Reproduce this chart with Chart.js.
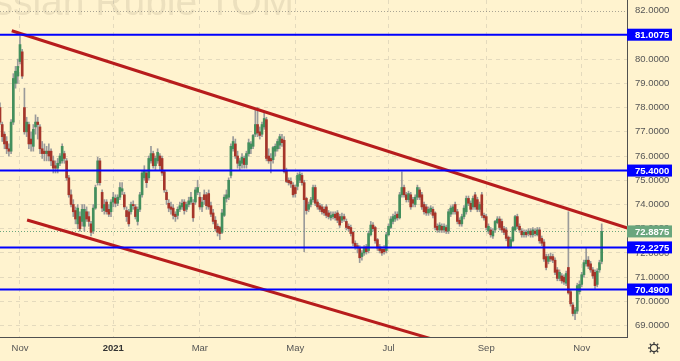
<!DOCTYPE html>
<html><head><meta charset="utf-8">
<style>html,body{margin:0;padding:0;background:#fff3cf;}canvas{display:block;}</style>
<script src="https://cdn.jsdelivr.net/npm/chart.js@4"></script>
</head><body>
<canvas id="c" width="680" height="361"></canvas>
<script>
// ---- data (daily candles, USD/RUB TOM, Oct 2020 - Nov 2021) ----
const opens = [
78.0,77.3,76.9,76.6,76.3,76.2,77.4,79.0,79.3,79.9,
80.3,78.0,77.0,77.3,76.7,76.4,77.2,77.4,77.2,76.3,
76.2,76.1,76.2,76.2,75.8,75.6,75.5,75.7,75.8,76.1,
75.8,75.1,74.4,74.0,73.75,73.2,73.5,73.3,73.1,73.7,
73.5,73.2,72.9,73.85,74.9,75.8,74.5,73.75,74.1,73.8,
73.7,74.1,74.25,74.05,74.3,74.55,74.4,73.75,73.7,73.7,
74.0,73.9,73.3,73.8,74.4,75.1,75.3,75.1,75.8,76.1,
75.6,75.8,76.0,75.9,75.35,74.5,74.05,73.9,73.85,73.6,
73.55,73.8,73.9,74.1,73.8,74.0,74.1,74.05,74.1,74.5,
74.3,73.9,74.4,74.4,74.45,73.95,73.65,73.35,73.1,73.05,
72.85,73.55,74.25,74.3,75.2,76.3,76.5,76.0,75.6,75.7,
75.9,75.65,76.1,76.3,76.4,76.9,77.3,77.0,76.9,77.2,
77.5,76.0,75.9,75.85,76.2,76.3,76.45,76.7,76.65,75.4,
75.0,74.95,74.8,74.7,74.75,75.0,75.2,74.9,74.25,73.8,
74.0,74.2,74.7,74.1,73.95,73.9,73.8,73.9,73.65,73.45,
73.5,73.6,73.65,73.5,73.35,73.5,73.3,73.1,73.05,72.85,
72.4,72.3,72.2,71.85,72.0,72.25,72.1,72.75,73.15,73.05,
72.55,72.25,72.15,72.15,72.1,72.75,73.05,73.3,73.4,73.6,
73.45,74.4,74.7,74.4,74.2,74.4,74.2,74.0,74.3,74.6,
74.4,74.0,73.9,73.65,73.7,73.8,73.65,73.1,72.95,73.1,
72.95,73.05,72.9,73.6,73.7,74.0,73.7,73.35,73.2,73.5,
73.7,74.25,74.05,73.9,74.4,74.2,73.8,74.4,73.55,73.5,
72.9,72.95,72.7,72.95,73.25,73.4,73.3,73.0,72.95,72.65,
72.25,72.5,72.95,73.5,73.1,72.9,72.75,72.85,72.8,72.9,
72.75,72.9,72.75,72.95,72.6,72.45,71.85,71.65,71.85,71.85,
71.7,71.3,70.95,71.05,71.0,70.75,71.4,70.4,69.85,69.5,
69.6,70.4,70.7,71.1,71.55,71.7,71.55,71.3,71.2,70.7,
71.3,71.65];
const highs = [
78.2,77.4,77.0,76.8,76.5,77.5,79.4,79.7,80.0,80.95,
80.4,78.8,77.6,77.4,77.0,77.3,77.7,77.6,77.3,76.6,
76.5,76.4,76.5,76.3,76.0,75.8,75.9,76.1,76.5,76.2,
75.9,75.2,74.6,74.2,73.9,74.0,73.7,74.0,74.0,73.9,
73.7,73.3,74.0,74.8,75.95,75.9,74.6,74.2,74.2,74.0,
74.2,74.5,74.4,74.4,74.9,74.9,74.5,73.9,73.8,74.1,
74.15,74.0,73.9,74.5,75.4,75.6,75.4,76.0,76.4,76.2,
76.0,76.3,76.1,76.0,75.4,74.6,74.2,74.1,74.0,73.7,
73.9,74.1,74.2,74.2,74.1,74.3,74.5,74.2,74.7,75.0,
74.5,74.3,74.6,74.5,74.6,74.1,73.8,73.5,73.2,73.1,
73.8,74.4,74.6,75.1,76.5,76.8,76.7,76.2,75.9,76.1,
76.0,76.2,76.7,76.6,76.9,77.9,78.0,77.2,77.4,77.85,
77.6,76.3,76.1,76.4,76.5,76.7,76.9,76.9,76.8,75.5,
75.1,75.1,74.9,74.8,75.3,75.35,75.3,75.0,74.3,74.1,
74.3,74.8,74.8,74.2,74.05,74.0,73.9,74.0,73.75,73.7,
73.7,73.7,73.75,73.6,73.65,73.6,73.4,73.2,73.15,72.9,
72.5,72.4,72.3,72.1,72.3,72.35,72.9,73.3,73.25,73.1,
72.6,72.35,72.25,72.3,72.85,73.2,73.5,73.6,73.7,73.7,
74.5,75.35,74.8,74.5,74.55,74.5,74.3,74.4,74.8,74.7,
74.5,74.1,74.0,73.9,73.95,73.9,73.7,73.2,73.25,73.2,
73.2,73.15,73.8,73.95,74.0,74.1,73.8,73.45,73.6,73.95,
74.35,74.35,74.15,74.35,74.5,74.3,74.1,74.5,73.65,73.6,
73.2,73.05,73.0,73.35,73.5,73.5,73.4,73.1,73.05,72.7,
72.65,73.1,73.55,73.6,73.2,73.0,72.95,72.95,73.0,73.0,
73.05,73.0,73.05,73.05,72.7,72.55,71.95,71.95,72.0,71.95,
71.8,71.4,71.3,71.15,71.1,71.25,73.7,70.5,69.95,69.75,
70.75,70.85,71.2,71.7,72.2,71.85,71.65,71.4,71.3,71.35,
71.7,73.2];
const lows = [
77.3,76.6,76.3,76.1,76.0,76.1,77.3,78.8,79.0,79.8,
79.2,76.9,76.8,76.3,76.2,76.2,76.9,76.7,76.1,75.9,
75.8,75.8,75.8,75.6,75.3,75.3,75.3,75.6,75.7,75.7,
75.0,74.3,73.9,73.5,73.2,73.0,72.9,73.1,72.9,73.3,
73.1,72.7,72.8,73.8,74.8,74.8,73.7,73.6,73.6,73.5,
73.5,73.9,73.9,73.95,74.2,74.4,73.8,73.3,73.1,73.6,
73.8,73.4,73.15,73.7,74.3,75.0,74.7,75.0,75.7,75.5,
75.4,75.7,75.4,75.2,74.5,74.0,73.7,73.6,73.4,73.3,
73.4,73.7,73.8,73.6,73.7,73.9,74.0,73.3,74.0,74.4,
73.8,73.7,74.0,73.8,73.8,73.5,73.2,72.9,72.7,72.55,
72.8,73.5,74.1,74.2,75.1,76.2,75.9,75.5,75.4,75.5,
75.5,75.5,76.0,76.1,76.3,76.8,76.8,76.7,76.8,77.1,
75.8,75.7,75.3,75.7,76.0,76.2,76.3,76.4,75.3,74.9,
74.8,74.7,74.3,74.3,74.6,74.9,74.8,72.05,73.6,73.7,
73.9,74.1,73.95,73.8,73.7,73.6,73.55,73.45,73.4,73.35,
73.4,73.35,73.25,73.05,73.25,73.3,72.95,72.9,72.7,72.3,
72.15,72.0,71.6,71.7,71.9,71.95,72.0,72.7,72.9,72.4,
72.1,72.0,71.9,71.95,72.0,72.7,73.0,73.2,73.3,73.35,
73.4,74.3,74.3,74.1,74.1,73.8,73.9,73.9,74.2,74.2,
73.8,73.6,73.55,73.55,73.6,73.45,72.95,72.85,72.85,72.85,
72.85,72.8,72.8,73.5,73.6,73.6,73.2,73.1,73.1,73.4,
73.6,73.95,73.7,73.8,73.8,73.7,73.7,73.45,73.35,72.95,
72.8,72.65,72.6,72.85,73.2,72.95,72.85,72.75,72.5,72.2,
72.2,72.45,72.9,73.0,72.85,72.65,72.65,72.65,72.7,72.65,
72.65,72.7,72.7,72.4,72.3,71.65,71.3,71.55,71.65,71.6,
71.1,70.85,70.85,70.75,70.7,70.65,70.3,69.8,69.4,69.25,
69.5,70.3,70.6,71.0,71.45,71.35,71.2,70.95,70.5,70.6,
71.2,71.55];
const closes = [
77.4,76.8,76.5,76.3,76.2,77.4,79.2,79.5,79.7,80.6,
79.3,77.0,77.4,76.5,76.5,77.1,77.4,77.3,76.3,76.1,
76.1,76.2,76.0,75.8,75.5,75.5,75.7,76.0,76.4,75.9,
75.1,74.4,74.0,73.7,73.4,73.85,73.0,73.8,73.8,73.4,
73.3,72.85,73.85,74.7,75.8,74.9,73.85,74.0,73.7,73.6,
74.1,74.3,74.05,74.3,74.7,74.65,73.9,73.5,73.2,74.0,
73.95,73.5,73.8,74.4,75.3,75.4,74.9,75.9,76.1,75.6,
75.9,76.15,75.6,75.3,74.6,74.2,73.85,73.8,73.55,73.5,
73.8,73.95,74.05,73.75,74.0,74.15,74.3,73.45,74.6,74.7,
73.9,74.1,74.2,73.95,73.9,73.6,73.3,73.0,72.85,72.8,
73.65,74.3,74.4,75.0,76.4,76.6,76.0,75.7,75.8,75.95,
75.65,76.1,76.55,76.5,76.85,77.3,76.95,76.85,77.3,77.55,
75.9,75.8,75.8,76.35,76.4,76.6,76.8,76.55,75.35,74.95,
74.9,74.85,74.4,74.45,75.2,75.25,74.9,74.2,73.75,74.0,
74.2,74.7,74.05,73.9,73.8,73.7,73.65,73.55,73.5,73.55,
73.6,73.45,73.35,73.15,73.5,73.4,73.05,73.0,72.8,72.4,
72.25,72.2,71.8,72.0,72.2,72.05,72.8,73.15,73.0,72.5,
72.2,72.1,72.0,72.05,72.75,73.1,73.4,73.5,73.55,73.45,
74.4,74.7,74.4,74.2,74.45,73.9,74.05,74.3,74.7,74.3,
73.9,73.7,73.65,73.8,73.85,73.55,73.05,72.95,73.15,72.95,
73.1,72.9,73.7,73.85,73.9,73.7,73.3,73.2,73.5,73.85,
74.25,74.05,73.8,74.25,73.9,73.8,74.0,73.55,73.45,73.05,
73.1,72.75,72.9,73.3,73.4,73.05,72.95,72.85,72.6,72.25,
72.55,73.05,73.5,73.1,72.95,72.75,72.85,72.75,72.9,72.75,
72.95,72.8,72.95,72.5,72.4,71.75,71.4,71.85,71.75,71.7,
71.2,70.95,71.2,70.85,70.8,71.15,70.35,69.9,69.5,69.65,
70.65,70.7,71.1,71.6,71.7,71.45,71.3,71.05,70.65,71.25,
71.6,72.8875];

const monthLabels = ['Nov','2021','Mar','May','Jul','Sep','Nov'];
const monthStartBars = [9,51,90,133,175,219,262];
const priceTicks = [69,70,71,72,73,74,75,76,77,78,79,80,81,82];
const levelLines = [81.0075, 75.40, 72.2275, 70.49];
const lastPrice = 72.8875;
const trendUpper = [[5.3,81.17],[290,72.81]];
const trendLower = [[12.2,73.36],[200,68.30]];
const watermark = 'U.S. Dollar / Russian Ruble TOM';

const lens = [opens.length, highs.length, lows.length, closes.length];
if (new Set(lens).size !== 1) throw new Error('length mismatch ' + lens.join(','));

// ---- styling ----
const BG = '#fff3cf';
const UP = '#438f5d', DOWN = '#a5352a', WICK = '#9a9a9a';
const BLUE = '#0000ff', RED = '#b71c1c', LASTG = '#6aa67e';
const FONT = '"Liberation Sans", Arial, sans-serif';

const lineDs = (pts, color, width) => ({
  type: 'line', data: pts.map(p => ({x: p[0], y: p[1]})),
  borderColor: color, borderWidth: width, pointRadius: 0, tension: 0,
  fill: false, clip: 0, order: 0
});

const datasets = [
  {
    type: 'bar', label: 'wick',
    data: highs.map((h, i) => ({x: i, y: [lows[i], h]})),
    backgroundColor: WICK, barThickness: 1, grouped: false, order: 3, borderWidth: 0
  },
  {
    type: 'bar', label: 'body',
    data: opens.map((o, i) => ({x: i, y: [o, closes[i]]})),
    backgroundColor: opens.map((o, i) => closes[i] >= o ? UP : DOWN),
    barThickness: 2, minBarLength: 1, grouped: false, order: 2, borderWidth: 0, borderSkipped: false
  },
  ...levelLines.map(v => lineDs([[-10, v], [300, v]], BLUE, 2)),
  lineDs(trendUpper, RED, 3),
  lineDs(trendLower, RED, 3)
];

const decor = {
  id: 'decor',
  beforeDraw(chart) {
    const {ctx} = chart;
    ctx.save();
    ctx.fillStyle = BG;
    ctx.fillRect(0, 0, chart.width, chart.height);
    ctx.font = '39px ' + FONT;
    ctx.fillStyle = 'rgba(110,100,80,0.13)';
    ctx.textAlign = 'right';
    ctx.textBaseline = 'alphabetic';
    ctx.fillText(watermark, 294, 15);
    ctx.restore();
  },
  beforeDatasetsDraw(chart) {
    const {ctx, chartArea: a, scales: {y}} = chart;
    ctx.save();
    // top dotted line
    let py = Math.round(y.getPixelForValue(priceTicks[priceTicks.length - 1])) + 0.5;
    ctx.strokeStyle = 'rgba(100,100,100,0.55)';
    ctx.lineWidth = 1;
    ctx.setLineDash([1, 2]);
    ctx.beginPath(); ctx.moveTo(a.left, py); ctx.lineTo(a.right, py); ctx.stroke();
    // last price dotted line
    py = Math.round(y.getPixelForValue(lastPrice)) + 0.5;
    ctx.strokeStyle = LASTG;
    ctx.beginPath(); ctx.moveTo(a.left, py); ctx.lineTo(a.right, py); ctx.stroke();
    ctx.restore();
  },
  afterDraw(chart) {
    const {ctx, chartArea: a, scales: {y}} = chart;
    ctx.save();
    ctx.font = 'bold 9.5px ' + FONT;
    ctx.textBaseline = 'middle';
    ctx.textAlign = 'left';
    const box = (v, col) => {
      const py = y.getPixelForValue(v);
      ctx.fillStyle = col;
      ctx.fillRect(a.right, py - 6, 45, 12);
      ctx.fillStyle = '#ffffff';
      ctx.fillText(v.toFixed(4), a.right + 8, py + 0.5);
    };
    levelLines.forEach(v => box(v, BLUE));
    box(lastPrice, LASTG);
    // settings gear
    const cx = 654, cy = 348;
    ctx.strokeStyle = '#3a3a3a';
    ctx.lineWidth = 1.2;
    ctx.beginPath(); ctx.arc(cx, cy, 3.6, 0, Math.PI * 2); ctx.stroke();
    for (let k = 0; k < 8; k++) {
      const t = k * Math.PI / 4;
      ctx.beginPath();
      ctx.moveTo(cx + Math.cos(t) * 3.6, cy + Math.sin(t) * 3.6);
      ctx.lineTo(cx + Math.cos(t) * 6, cy + Math.sin(t) * 6);
      ctx.stroke();
    }
    ctx.restore();
  }
};

new Chart(document.getElementById('c'), {
  type: 'bar',
  data: {datasets},
  options: {
    responsive: false, devicePixelRatio: 1, animation: false, events: [],
    layout: {padding: 0},
    plugins: {legend: {display: false}, tooltip: {enabled: false}},
    scales: {
      x: {
        type: 'linear', min: 0, max: 282.4, offset: false,
        grid: {offset: false, drawTicks: false, color: 'rgba(120,120,120,0.2)', lineWidth: 1},
        border: {display: true, color: '#505050', width: 1, dash: [4, 4]},
        afterBuildTicks: s => { s.ticks = monthStartBars.map(v => ({value: v})); },
        afterFit: s => { s.height = 24; s.paddingLeft = 0; s.paddingRight = 0; },
        ticks: {
          autoSkip: false, maxRotation: 0, padding: 6,
          callback: v => monthLabels[monthStartBars.indexOf(v)],
          color: c => (monthLabels[monthStartBars.indexOf(c.tick && c.tick.value)] === '2021') ? '#333' : '#555',
          font: c => ({family: FONT, size: 9.5,
            weight: (monthLabels[monthStartBars.indexOf(c.tick && c.tick.value)] === '2021') ? 'bold' : 'normal'})
        }
      },
      y: {
        type: 'linear', position: 'right', min: 68.53, max: 82.44, beginAtZero: false,
        grid: {drawTicks: false, color: c => (c.tick && c.tick.value === 82) ? 'rgba(0,0,0,0)' : 'rgba(120,120,120,0.2)', lineWidth: 1},
        border: {display: true, color: '#505050', width: 1, dash: [4, 4]},
        afterBuildTicks: s => { s.ticks = priceTicks.map(v => ({value: v})); },
        afterFit: s => { s.width = 53; s.paddingTop = 0; s.paddingBottom = 0; },
        ticks: {
          padding: 8, color: '#555', font: {family: FONT, size: 9.5},
          callback: v => Number(v).toFixed(4)
        }
      }
    }
  },
  plugins: [decor]
});
</script>
</body></html>
